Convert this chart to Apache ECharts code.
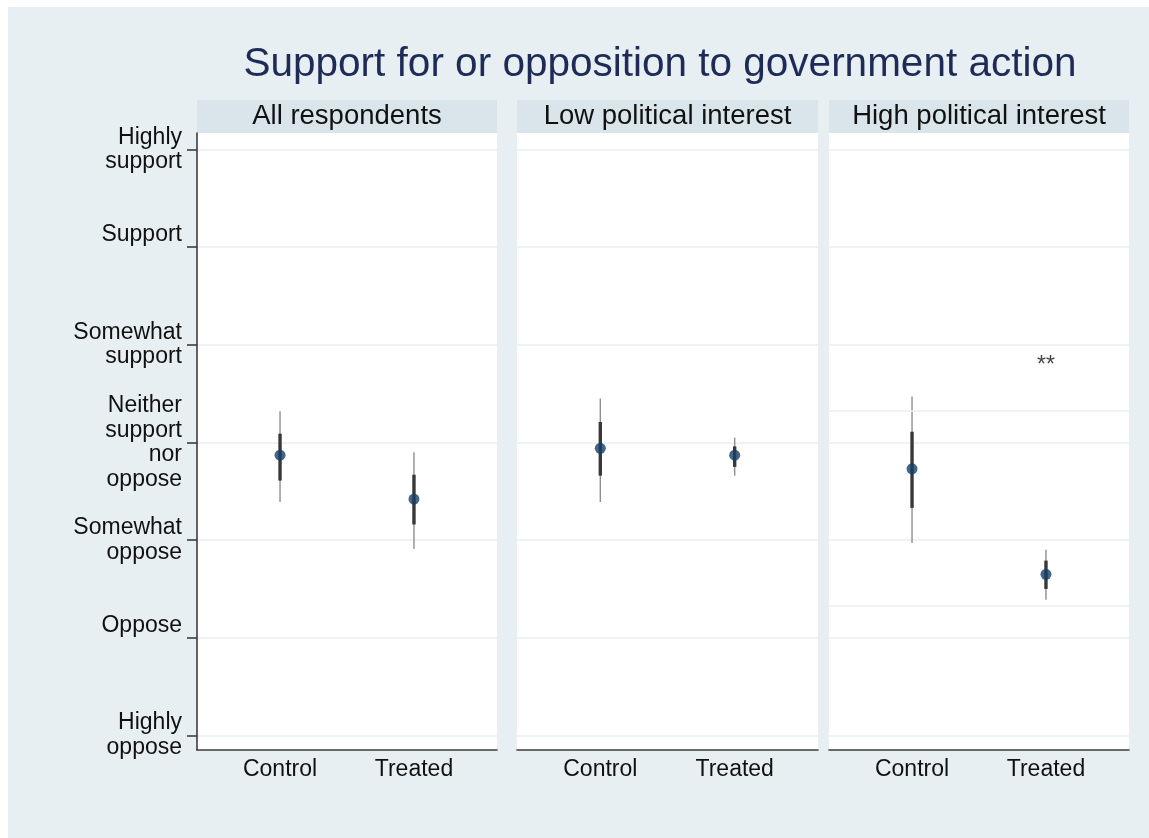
<!DOCTYPE html>
<html>
<head>
<meta charset="utf-8">
<title>Support for or opposition to government action</title>
<script src="https://cdn.jsdelivr.net/npm/echarts@6/dist/echarts.min.js"></script>
<style>
  html, body { margin: 0; padding: 0; background: #ffffff; }
  #chart { width: 1149px; height: 838px; }
</style>
</head>
<body>
<div id="chart"></div>
<script>
// ---- data ----
const categories = ['Control', 'Treated'];
const panelTitles = ['All respondents', 'Low political interest', 'High political interest'];
const yTickValues = [1, 2, 3, 4, 5, 6, 7];
const yTickLabels = [
  'Highly\noppose',
  'Oppose\n ',
  'Somewhat\noppose',
  'Neither\nsupport\nnor\noppose',
  'Somewhat\nsupport',
  'Support\n ',
  'Highly\nsupport'
];

// point estimates per panel: [Control, Treated]
const estimates  = [[3.87, 3.42], [3.94, 3.87], [3.73, 2.65]];
// narrower interval (thick bar)
const innerLow   = [[3.61, 3.16], [3.66, 3.75], [3.33, 2.50]];
const innerHigh  = [[4.09, 3.67], [4.21, 3.96], [4.11, 2.79]];
// wider interval (thin line)
const outerLow   = [[3.39, 2.91], [3.39, 3.66], [2.97, 2.39]];
const outerHigh  = [[4.32, 3.90], [4.45, 4.05], [4.47, 2.90]];

// additional reference lines drawn only in the third panel
const panel3Lines = [4.33, 2.33];
// significance marker: [panel, category index, y position, text]
const sigMarks = [[2, 1, 4.79, '**']];

// ---- layout ----
const FONT = '"Liberation Sans", Arial, Helvetica, sans-serif';
const BG = '#e8eff2';
const STRIP = '#d9e5eb';
const GRID_LINE = '#e9f0f3';
const panelBoxes = [
  { left: 197, width: 300 },
  { left: 517, width: 301 },
  { left: 829, width: 300 }
];
const plotTop = 133, plotHeight = 617;
const stripTop = 100, stripHeight = 33;

const chart = echarts.init(document.getElementById('chart'), null, { renderer: 'canvas' });

function renderInterval(params, api) {
  const x = api.value(0);
  const a = api.coord([x, api.value(1)]);
  const b = api.coord([x, api.value(2)]);
  const c = api.coord([x, api.value(3)]);
  const d = api.coord([x, api.value(4)]);
  return {
    type: 'group',
    children: [
      { type: 'line', shape: { x1: a[0], y1: a[1], x2: b[0], y2: b[1] },
        style: { stroke: '#8e8e8e', lineWidth: 1.4 } },
      { type: 'line', shape: { x1: c[0], y1: c[1], x2: d[0], y2: d[1] },
        style: { stroke: '#383838', lineWidth: 3.4 } }
    ]
  };
}

const grids = [], xAxes = [], yAxes = [], series = [], graphics = [];

graphics.push({
  type: 'rect', z: -10, silent: true,
  shape: { x: 8, y: 7, width: 1141, height: 831 },
  style: { fill: BG }
});

panelBoxes.forEach((box, p) => {
  grids.push({
    left: box.left, width: box.width, top: plotTop, height: plotHeight,
    show: true, backgroundColor: '#ffffff', borderWidth: 0, containLabel: false
  });
  xAxes.push({
    type: 'value', gridIndex: p, min: 0.38, max: 2.62,
    axisLine: { show: true, lineStyle: { color: '#3c3c3c', width: 1.6 } },
    axisTick: { show: false },
    splitLine: { show: false },
    axisLabel: {
      customValues: categories.map((c, i) => i + 1),
      formatter: v => categories[Math.round(v) - 1] || '',
      fontFamily: FONT, fontSize: 23, color: '#111111', margin: 8
    }
  });
  const isFirst = p === 0;
  yAxes.push({
    type: 'value', gridIndex: p, min: 0.85, max: 7.17,
    axisLine: { show: isFirst, onZero: false, lineStyle: { color: '#3c3c3c', width: 1.6 } },
    axisTick: { show: isFirst, customValues: yTickValues, length: 10,
      lineStyle: { color: '#3c3c3c', width: 1.6 } },
    axisLabel: {
      show: isFirst, customValues: yTickValues,
      formatter: v => yTickLabels[Math.round(v) - 1] || '',
      fontFamily: FONT, fontSize: 23, lineHeight: 24.5, color: '#111111', margin: 15,
      align: 'right'
    },
    splitLine: { show: true, lineStyle: { color: GRID_LINE, width: 1.6 } }
  });

  // panel strip
  graphics.push({
    type: 'rect', silent: true,
    shape: { x: box.left, y: stripTop, width: box.width, height: stripHeight },
    style: { fill: STRIP }
  });
  graphics.push({
    type: 'text', silent: true,
    x: box.left + box.width / 2, y: stripTop + stripHeight / 2 - 0.5,
    style: {
      text: panelTitles[p], fontFamily: FONT, fontSize: 27.5, fill: '#111111',
      align: 'center', verticalAlign: 'middle'
    }
  });

  const intervalData = categories.map((c, i) =>
    [i + 1, outerLow[p][i], outerHigh[p][i], innerLow[p][i], innerHigh[p][i]]);
  const pointData = categories.map((c, i) => [i + 1, estimates[p][i]]);

  const ciSeries = {
    type: 'custom', xAxisIndex: p, yAxisIndex: p, renderItem: renderInterval,
    data: intervalData, silent: true, z: 3
  };
  if (p === 2) {
    ciSeries.markLine = {
      silent: true, symbol: 'none', label: { show: false },
      lineStyle: { color: GRID_LINE, width: 1.6, type: 'solid' },
      data: panel3Lines.map(v => ({ yAxis: v }))
    };
  }
  series.push(ciSeries);
  series.push({
    type: 'scatter', xAxisIndex: p, yAxisIndex: p, data: pointData,
    symbol: 'circle', symbolSize: 11, silent: true, z: 5,
    itemStyle: { color: '#173f68' }
  });
});

sigMarks.forEach(([p, i, y, txt]) => {
  series.push({
    type: 'scatter', xAxisIndex: p, yAxisIndex: p, data: [[i + 1, y]],
    symbolSize: 0, silent: true,
    label: { show: true, position: 'inside', formatter: txt,
      fontFamily: FONT, fontSize: 23, color: '#111111' }
  });
});

chart.setOption({
  backgroundColor: '#ffffff',
  animation: false,
  title: {
    text: 'Support for or opposition to government action',
    left: 655, top: 39, textAlign: 'center',
    textStyle: { fontFamily: FONT, fontSize: 40.5, fontWeight: 'normal', color: '#1e2b57' }
  },
  graphic: graphics,
  grid: grids,
  xAxis: xAxes,
  yAxis: yAxes,
  series: series
});
</script>
</body>
</html>
